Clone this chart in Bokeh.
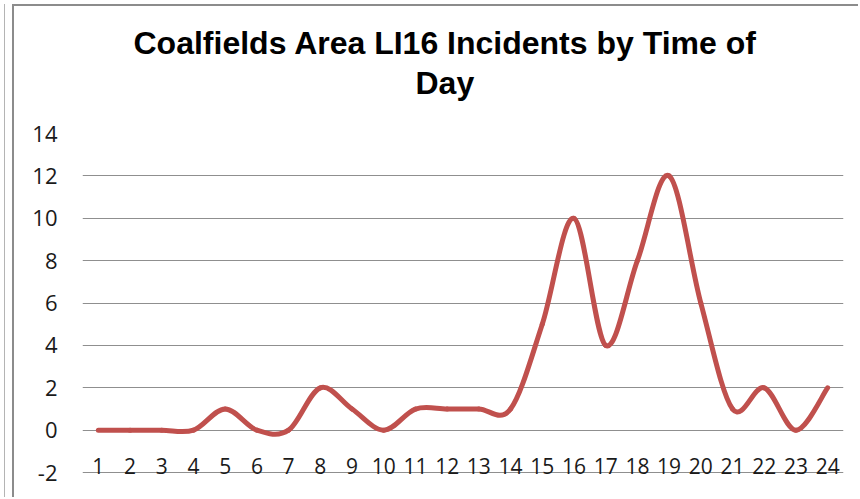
import numpy as np
from bokeh.plotting import figure
from bokeh.models import FixedTicker, Range1d, ColumnDataSource, Title
from bokeh.core.properties import value
from bokeh.embed import file_html
from bokeh.resources import INLINE

# ---- data ----
hours = [1, 2, 3, 4, 5, 6, 7, 8, 9, 10, 11, 12, 13, 14, 15, 16, 17, 18, 19, 20, 21, 22, 23, 24]
hour_labels = ["1", "2", "3", "4", "5", "6", "7", "8", "9", "10", "11", "12",
               "13", "14", "15", "16", "17", "18", "19", "20", "21", "22", "23", "24"]
incidents = [0, 0, 0, 0, 1, 0, 0, 2, 1, 0, 1, 1, 1, 1, 5, 10, 4, 8, 12, 6, 1, 2, 0, 2]
y_ticks = [-2, 0, 2, 4, 6, 8, 10, 12, 14]
y_tick_labels = {-2: "-2"}
title_line1 = "Coalfields Area LI16 Incidents by Time of"
title_line2 = "Day"

# ---- smoothed-line control points (Excel-style Catmull-Rom -> Bezier) ----
x = np.array(hours, dtype=float)
y = np.array(incidents, dtype=float)
n = len(x)
x0, y0, x1, y1, cx0, cy0, cx1, cy1 = [], [], [], [], [], [], [], []
for i in range(n - 1):
    ip = max(i - 1, 0)
    inx = min(i + 2, n - 1)
    x0.append(x[i]); y0.append(y[i])
    x1.append(x[i + 1]); y1.append(y[i + 1])
    cx0.append(x[i] + (x[i + 1] - x[ip]) / 6.0)
    cy0.append(y[i] + (y[i + 1] - y[ip]) / 6.0)
    cx1.append(x[i + 1] - (x[inx] - x[i]) / 6.0)
    cy1.append(y[i + 1] - (y[inx] - y[i]) / 6.0)
bez = ColumnDataSource(dict(x0=x0, y0=y0, x1=x1, y1=y1, cx0=cx0, cy0=cy0, cx1=cx1, cy1=cy1))

p = figure(width=846, height=493, output_backend="svg", toolbar_location=None,
           title=None,
           x_range=Range1d(0.5, 24.5), y_range=Range1d(-3.27, 14),
           min_border_left=68, min_border_right=17, min_border_top=127, min_border_bottom=0)
p.styles = {"margin-left": "12px", "margin-top": "4px",
            "border-left": "2px solid #8c8c8c", "border-top": "2px solid #8c8c8c",
            "box-shadow": "-7px 0 0 0 white, -8px 0 0 0 #b4b4b4"}
p.outline_line_color = None
p.background_fill_color = "white"
p.border_fill_color = "white"

common = dict(align="left", text_font="Liberation Sans", text_font_style="bold",
              text_font_size="32px", text_color="black")
# spacer between the plot area and the title block
p.add_layout(Title(text=" ", text_font_size="1px", standoff=30), "above")
p.add_layout(Title(text=title_line2, offset=333, standoff=0, **common), "above")
p.add_layout(Title(text=title_line1, offset=51, standoff=4, **common), "above")

p.xaxis.visible = False
p.xgrid.visible = False
p.yaxis.ticker = FixedTicker(ticks=y_ticks)
p.yaxis.major_label_overrides = y_tick_labels
p.ygrid.ticker = FixedTicker(ticks=y_ticks)
p.ygrid.grid_line_color = "#8f8f8f"
p.ygrid.grid_line_width = 1
p.yaxis.axis_line_color = None
p.yaxis.major_tick_line_color = None
p.yaxis.minor_tick_line_color = None
p.yaxis.major_label_standoff = 19
p.yaxis.major_label_text_font = "Open Sans"
p.yaxis.major_label_text_font_size = "22px"
p.yaxis.major_label_text_color = "#1a1a1a"

# x category labels sitting on the -2 line
lab_src = ColumnDataSource(dict(x=hours, y=[-2] * len(hours), t=hour_labels))
p.text(x="x", y="y", text="t", source=lab_src, text_align="center",
       text_baseline="alphabetic", y_offset=-7,
       text_font=value("Open Sans"), text_font_size="21px", text_color="#1a1a1a")

p.bezier(x0="x0", y0="y0", x1="x1", y1="y1", cx0="cx0", cy0="cy0", cx1="cx1", cy1="cy1",
         source=bez, line_color="#C0504D", line_width=5, line_cap="round")

open("out.html", "w").write(file_html(p, INLINE))
